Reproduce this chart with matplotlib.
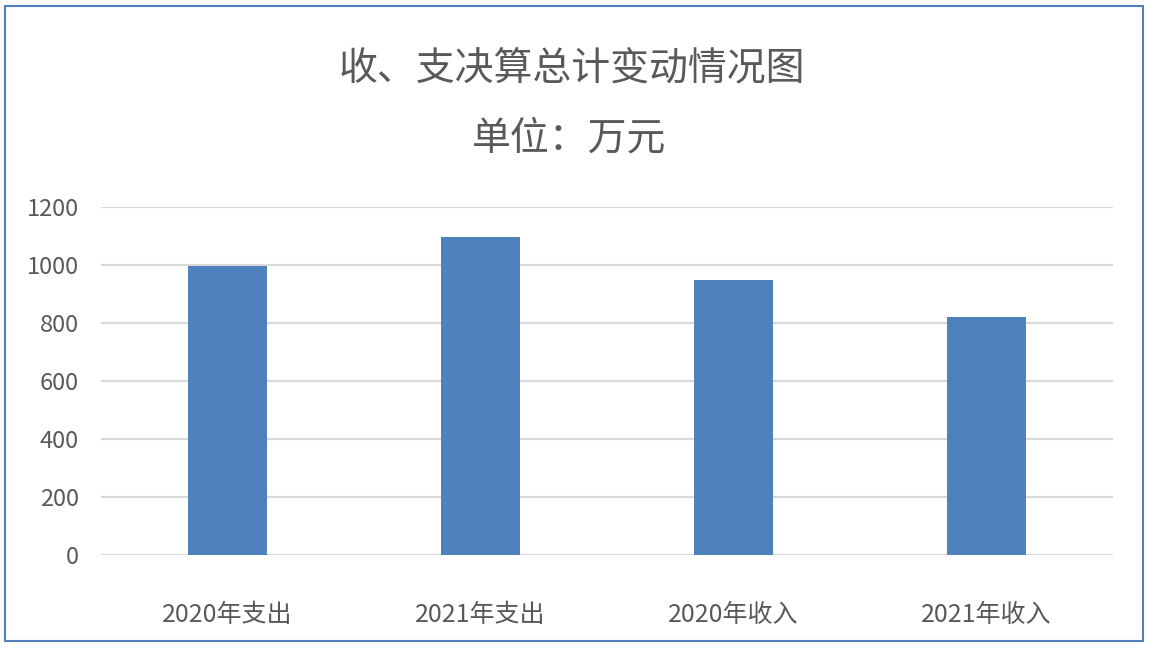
import matplotlib.pyplot as plt
import matplotlib.patches as patches

plt.rcParams['font.family'] = ['Noto Sans CJK SC', 'DejaVu Sans']

categories = ['2020年支出', '2021年支出', '2020年收入', '2021年收入']
values = [996, 1097, 948, 821]
yticks = [0, 200, 400, 600, 800, 1000, 1200]

text_color = '#595959'
bar_color = '#4F81BD'

fig = plt.figure(figsize=(11.52, 6.48), dpi=100)
ax = fig.add_axes([0.0877, 0.1435, 0.8785, 0.5371])

x = range(len(categories))
ax.bar(x, values, width=0.315, color=bar_color, zorder=3)

ax.set_xlim(-0.5, len(categories) - 0.5)
ax.set_ylim(0, 1200)
ax.set_yticks(yticks)
ax.set_yticklabels([str(v) for v in yticks])
ax.set_xticks(list(x))
ax.set_xticklabels(categories)

ax.grid(axis='y', color='#D9D9D9', linewidth=1.6, zorder=0)
ax.set_axisbelow(True)
for s in ax.spines.values():
    s.set_visible(False)
ax.tick_params(axis='both', length=0, colors=text_color)
ax.tick_params(axis='y', labelsize=17, pad=16)
ax.tick_params(axis='x', labelsize=18, pad=34)

fig.text(572 / 1152, 1 - 68 / 648, '收、支决算总计变动情况图', ha='center', va='center',
         fontsize=28, color=text_color)
fig.text(569 / 1152, 1 - 138 / 648, '单位：万元', ha='center', va='center',
         fontsize=28, color=text_color)

border = patches.Rectangle((5 / 1152, 1 - 641 / 648), 1138 / 1152, 635 / 648,
                           transform=fig.transFigure, fill=False,
                           edgecolor='#4F81BD', linewidth=1.5)
fig.add_artist(border)

fig.savefig('out.png', dpi=100, facecolor='white')
